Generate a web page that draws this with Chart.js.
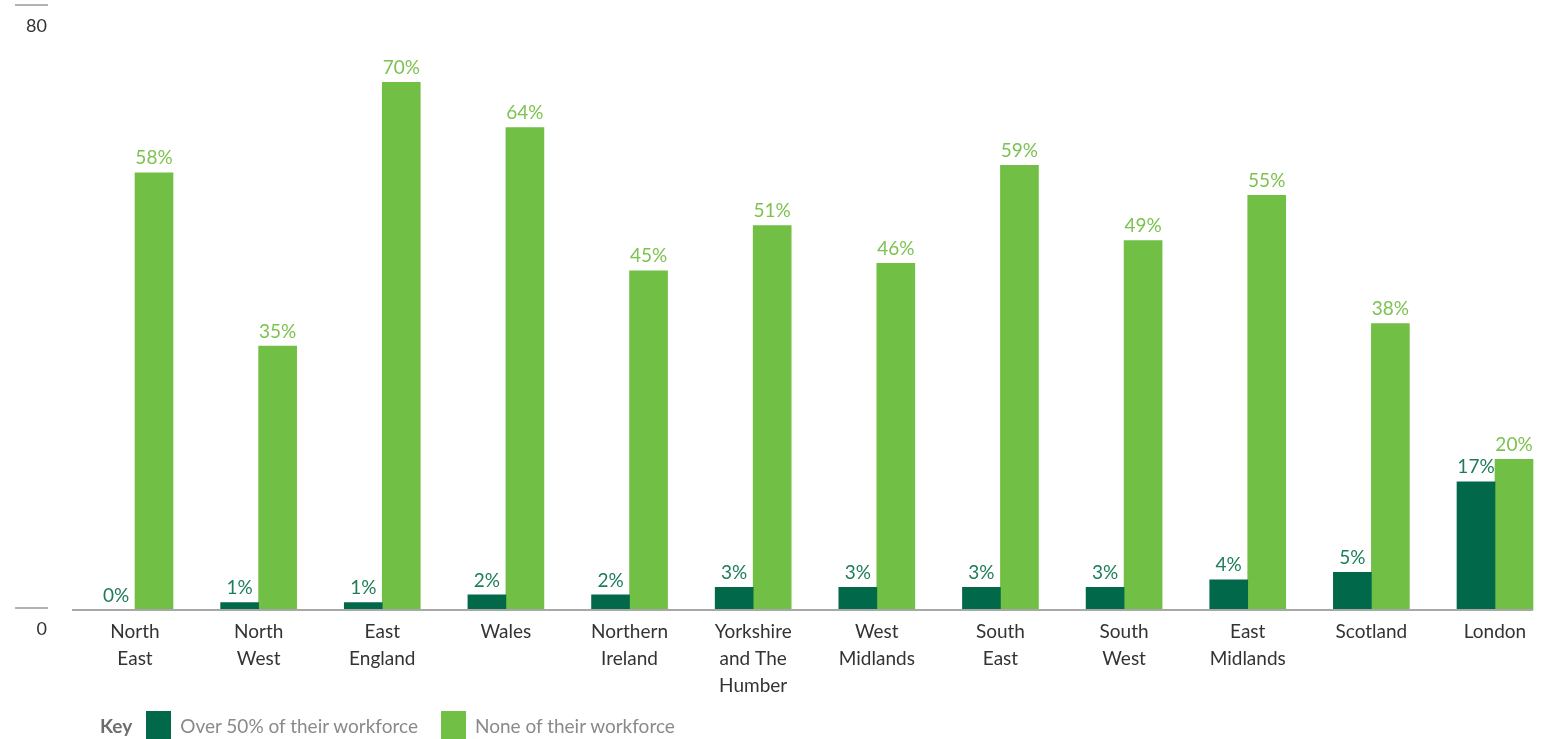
<!DOCTYPE html>
<html>
<head>
<meta charset="utf-8">
<script src="https://cdn.jsdelivr.net/npm/chart.js@4/dist/chart.umd.min.js"></script>
<style>
  html, body { margin: 0; padding: 0; background: #fff; overflow: hidden; }
  #wrap { position: relative; width: 1543px; height: 739px; }
  #key { position: absolute; left: 100px; top: 711px; height: 28px; display: flex; align-items: center;
         font-family: Lato, "Noto Sans", sans-serif; font-size: 19px; color: #8a8a8a; }
  #key b { color: #6e6e6e; margin-right: 14px; }
  #key i { display: inline-block; width: 25px; height: 28px; margin-right: 9px; }
  #key span { margin-right: 23px; }
</style>
</head>
<body>
<div id="wrap">
  <canvas id="barChart" width="1543" height="739"></canvas>
  <div id="key"></div>
</div>
<script>
var regions = [["North", "East"], ["North", "West"], ["East", "England"], "Wales", ["Northern", "Ireland"],
  ["Yorkshire", "and The", "Humber"], ["West", "Midlands"], ["South", "East"], ["South", "West"],
  ["East", "Midlands"], "Scotland", "London"];
var overHalf = [0, 1, 1, 2, 2, 3, 3, 3, 3, 4, 5, 17];
var noneOf = [58, 35, 70, 64, 45, 51, 46, 59, 49, 55, 38, 20];
var yTicks = [0, 80];
var seriesNames = ["Over 50% of their workforce", "None of their workforce"];

var darkGreen = '#02684a';
var lightGreen = '#72bf45';
var darkLabel = '#1e7d58';
var lightLabel = '#7cc250';

// baseline, y tick marks and value labels
var extras = {
  id: 'extras',
  afterDatasetsDraw: function (chart) {
    var ctx = chart.ctx;
    var y = chart.scales.y;
    ctx.save();
    ctx.strokeStyle = '#a8a8a8';
    ctx.lineWidth = 2;
    ctx.beginPath();
    ctx.moveTo(72, y.getPixelForValue(0));
    ctx.lineTo(1533, y.getPixelForValue(0));
    ctx.stroke();

    ctx.font = '18px Lato, "Noto Sans", sans-serif';
    ctx.textAlign = 'right';
    ctx.textBaseline = 'middle';
    yTicks.forEach(function (t) {
      var py = y.getPixelForValue(t);
      ctx.strokeStyle = '#9a9a9a';
      ctx.lineWidth = 1.5;
      ctx.beginPath();
      ctx.moveTo(15, py - 2);
      ctx.lineTo(48, py - 2);
      ctx.stroke();
      ctx.fillStyle = '#333';
      ctx.fillText(String(t), 47, py + 19);
    });

    ctx.font = '19px Lato, "Noto Sans", sans-serif';
    ctx.textAlign = 'center';
    ctx.textBaseline = 'bottom';
    chart.data.datasets.forEach(function (ds, i) {
      chart.getDatasetMeta(i).data.forEach(function (bar, j) {
        ctx.fillStyle = i === 0 ? darkLabel : lightLabel;
        ctx.fillText(ds.data[j] + '%', bar.x, bar.y - 5);
      });
    });
    ctx.restore();
  }
};

var ctx = document.getElementById('barChart');
var chart = new Chart(ctx, {
  type: 'bar',
  data: {
    labels: regions,
    datasets: [
      { label: seriesNames[0], data: overHalf, backgroundColor: darkGreen },
      { label: seriesNames[1], data: noneOf, backgroundColor: lightGreen }
    ]
  },
  options: {
    responsive: false,
    animation: false,
    barThickness: 38,
    clip: false,
    layout: { padding: { left: 135, right: 48, top: 7, bottom: 0 } },
    plugins: { legend: { display: false }, tooltip: { enabled: false } },
    scales: {
      x: {
        offset: false,
        grid: { display: false },
        border: { display: false },
        ticks: {
          color: '#333',
          padding: 0,
          maxRotation: 0,
          autoSkip: false,
          font: { family: 'Lato, "Noto Sans", sans-serif', size: 19, lineHeight: 1.42 }
        },
        afterFit: function (scale) { scale.height = 129; }
      },
      y: {
        display: false,
        min: 0,
        max: 80
      }
    }
  },
  plugins: [extras]
});

var key = document.getElementById('key');
key.innerHTML = '<b>Key</b><i style="background:' + darkGreen + '"></i><span>' + seriesNames[0] +
  '</span><i style="background:' + lightGreen + '"></i><span>' + seriesNames[1] + '</span>';
</script>
</body>
</html>
